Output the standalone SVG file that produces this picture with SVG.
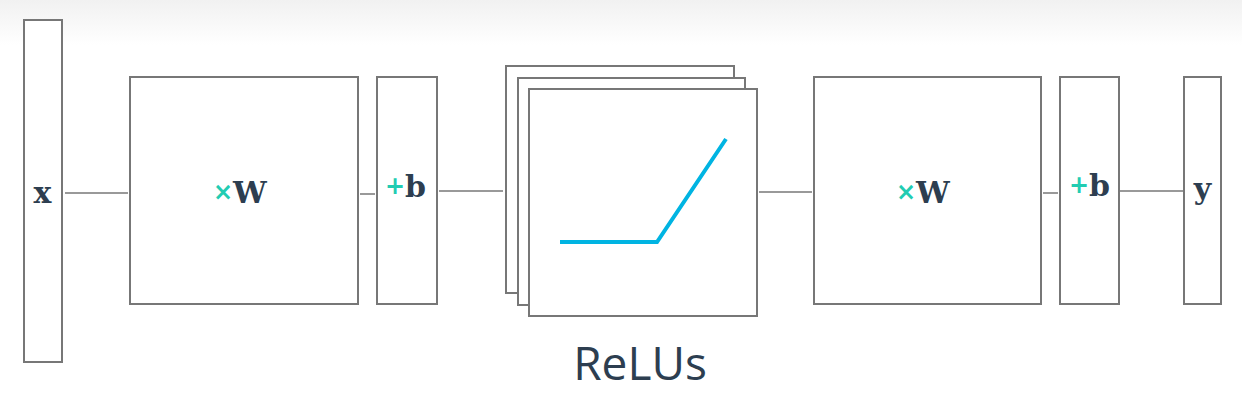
<svg xmlns="http://www.w3.org/2000/svg" width="1242" height="402" viewBox="0 0 1242 402">
<defs>
<linearGradient id="bg" x1="0" y1="0" x2="0" y2="1">
<stop offset="0" stop-color="#f1f1f1"/>
<stop offset="1" stop-color="#ffffff"/>
</linearGradient>
<style>
.box{fill:#fff;stroke:#777;stroke-width:2}
.con{stroke:#999;stroke-width:2;fill:none}
.m{font-family:"DejaVu Serif","Liberation Serif",serif;font-weight:bold;fill:#2d3e50;font-size:30px}
.op{font-family:"DejaVu Sans","Liberation Sans",sans-serif;font-weight:bold;fill:#22ccb2;font-size:24px}
.lbl{font-family:"Open Sans","Liberation Sans",sans-serif;fill:#2d3e50;font-size:46px}
</style>
</defs>
<rect x="0" y="0" width="1242" height="45" fill="url(#bg)"/>
<rect x="0" y="45" width="1242" height="357" fill="#fff"/>
<g id="connectors">
<line class="con" x1="65" y1="193" x2="128" y2="193"/>
<line class="con" x1="360" y1="194" x2="375" y2="194"/>
<line class="con" x1="439" y1="191" x2="503" y2="191"/>
<line class="con" x1="759" y1="192" x2="812" y2="192"/>
<line class="con" x1="1043" y1="193" x2="1058" y2="193"/>
<line class="con" x1="1120" y1="191" x2="1183" y2="191"/>
</g>
<g id="x">
<rect class="box" x="24" y="20" width="38" height="342"/>
<text class="m" x="42.5" y="203" text-anchor="middle">x</text>
</g>
<g id="w1">
<rect class="box" x="130" y="77" width="228" height="227"/>
<text x="213" y="203"><tspan class="op" y="200">×</tspan><tspan class="m" y="203">W</tspan></text>
</g>
<g id="b1">
<rect class="box" x="377" y="77" width="60" height="227"/>
<text x="385" y="197"><tspan class="op" y="194">+</tspan><tspan class="m" y="197">b</tspan></text>
</g>
<g id="relus">
<rect class="box" x="506" y="66" width="228" height="227"/>
<rect class="box" x="518" y="78" width="227" height="227"/>
<rect class="box" x="529" y="89" width="228" height="227"/>
<polyline points="560,242 657,242 726,139" fill="none" stroke="#00b4e2" stroke-width="4"/>
<text class="lbl" x="640" y="380" text-anchor="middle">ReLUs</text>
</g>
<g id="w2">
<rect class="box" x="814" y="77" width="227" height="227"/>
<text x="896" y="203"><tspan class="op" y="200">×</tspan><tspan class="m" y="203">W</tspan></text>
</g>
<g id="b2">
<rect class="box" x="1060" y="77" width="59" height="227"/>
<text x="1069" y="196"><tspan class="op" y="193">+</tspan><tspan class="m" y="196">b</tspan></text>
</g>
<g id="y">
<rect class="box" x="1184" y="77" width="37" height="227"/>
<text class="m" x="1202.5" y="199" text-anchor="middle">y</text>
</g>
</svg>
